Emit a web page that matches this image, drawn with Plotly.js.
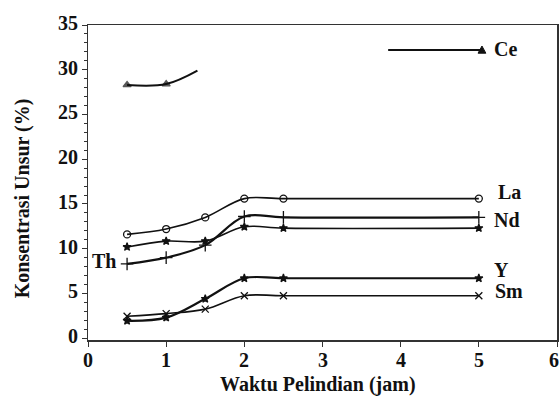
<!DOCTYPE html>
<html>
<head>
<meta charset="utf-8">
<script src="https://cdn.plot.ly/plotly-3.0.1.min.js"></script>
<style>html,body{margin:0;padding:0;background:#fff;}#chart{width:559px;height:402px;}</style>
</head>
<body>
<div id="chart"></div>
<script>
// Data
const timeX = [0.5, 1, 1.5, 2, 2.5, 5];
const ceX = [0.5, 1, 1.4];
const ceY = [28.3, 28.4, 29.9];
const laY = [11.6, 12.2, 13.5, 15.6, 15.6, 15.6];
const ndY = [8.3, 9.0, 10.4, 13.6, 13.5, 13.5];
const thY = [10.2, 10.85, 10.85, 12.45, 12.3, 12.3];
const yY  = [1.95, 2.3, 4.4, 6.7, 6.7, 6.7];
const smY = [2.45, 2.75, 3.25, 4.75, 4.75, 4.75];
const labels = ["Ce", "La", "Nd", "Th", "Y", "Sm"];
const xTicks = [0, 1, 2, 3, 4, 5, 6];
const yTicks = [0, 5, 10, 15, 20, 25, 30, 35];
const xTitle = "Waktu Pelindian (jam)";
const yTitle = "Konsentrasi Unsur (%)";

const serif = "Liberation Serif";
const ink = "#111";

function series(x, y, name, symbol, size, width, msizes) {
  return {
    x: x, y: y, name: name, type: "scatter", mode: "lines+markers",
    line: {color: ink, width: width, shape: "spline", smoothing: 1},
    marker: {symbol: symbol, size: msizes || size, color: ink,
             line: {color: ink, width: 1.3}},
    showlegend: false, hoverinfo: "skip"
  };
}

const traces = [
  series(ceX, ceY, "Ce", "triangle-up", 7, 2, [7, 7, 0]),
  series(timeX, laY, "La", "circle-open", 7, 1.6),
  series(timeX, ndY, "Nd", "cross-thin", 9, 2.2),
  series(timeX, thY, "Th", "star", 6, 1.6),
  series(timeX, yY, "Y", "star", 6, 2.2),
  series(timeX, smY, "Sm", "x-thin", 7, 1.6)
];

function bold(size) { return {family: serif, size: size, color: ink, weight: "bold"}; }

const labelPos = [[5.34, 32.3], [5.39, 16.3], [5.36, 13.2], [0.2, 8.6], [5.29, 7.6], [5.38, 5.3]];
const notes = labels.map((t, i) => ({
  x: labelPos[i][0], y: labelPos[i][1], xref: "x", yref: "y",
  text: t, showarrow: false, font: bold(20)
}));
// tick labels drawn as annotations at the tick values
xTicks.forEach(v => notes.push({
  x: v, y: 0, xref: "x", yref: "paper", yanchor: "middle", yshift: -20,
  xanchor: v === 6 ? "right" : "center", xshift: v === 6 ? 4 : 0,
  text: String(v), showarrow: false, font: bold(20)
}));
yTicks.forEach(v => notes.push({
  x: 0, y: v, xref: "paper", yref: "y", xanchor: "right", xshift: -8, yshift: 2,
  text: String(v), showarrow: false, font: bold(20)
}));
notes.push({x: 0.49, y: 0, xref: "paper", yref: "paper", yanchor: "middle", yshift: -44,
  text: xTitle, showarrow: false, font: bold(20)});
notes.push({x: 0, y: 0.45, xref: "paper", yref: "paper", xanchor: "center", xshift: -66,
  textangle: -90, text: yTitle, showarrow: false, font: bold(20)});

const layout = {
  width: 559, height: 402,
  margin: {l: 88, r: 2, t: 25, b: 62},
  font: {family: serif, color: ink, size: 18},
  xaxis: {
    range: [0, 6], tickvals: xTicks, showticklabels: false,
    showline: true, mirror: true, linecolor: "#333", linewidth: 1.5,
    ticks: "outside", ticklen: 5, tickcolor: "#333",
    showgrid: false, zeroline: false
  },
  yaxis: {
    range: [-0.2, 35], tickvals: yTicks, showticklabels: false,
    showline: true, mirror: true, linecolor: "#333", linewidth: 1.5,
    ticks: "outside", ticklen: 5, tickcolor: "#333",
    minor: {dtick: 1, tick0: 0, ticks: "outside", ticklen: 3, tickcolor: "#333"},
    showgrid: false, zeroline: false
  },
  shapes: [
    {type: "line", xref: "x", yref: "y", x0: 3.84, x1: 5.04, y0: 32.2, y1: 32.2, line: {color: ink, width: 2}},
    {type: "path", xref: "x", yref: "y", path: "M 4.99 31.85 L 5.09 31.85 L 5.04 32.65 Z", fillcolor: ink, line: {color: ink, width: 1}}
  ],
  annotations: notes
};

Plotly.newPlot("chart", traces, layout, {staticPlot: true});
</script>
</body>
</html>
